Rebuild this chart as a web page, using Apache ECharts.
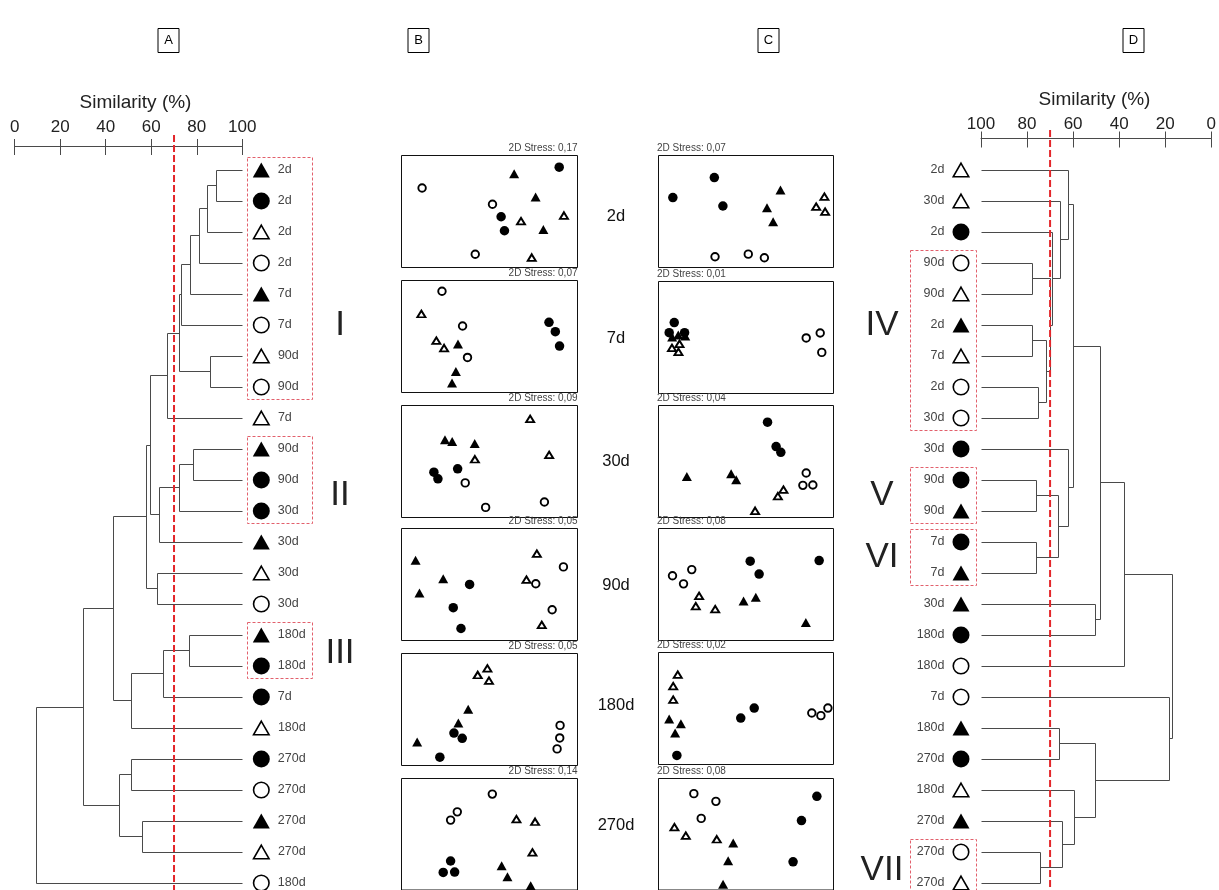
<!DOCTYPE html>
<html>
<head>
<meta charset="utf-8">
<script src="https://cdn.jsdelivr.net/npm/echarts@6/dist/echarts.min.js"></script>
<style>
  html, body { margin: 0; padding: 0; background: #fff; }
  #chart { width: 1219px; height: 890px; }
</style>
</head>
<body>
<div id="chart"></div>
<script>
// ---------- data ----------
const simTicks = [0, 20, 40, 60, 80, 100];
const cutLevel = 70;
const days = ['2d', '7d', '30d', '90d', '180d', '270d'];

// Dendrogram A: leaves from top to bottom (sampling time + group code)
const leafTimeA = ['2d','2d','2d','2d','7d','7d','90d','90d','7d','90d','90d','30d','30d','30d','30d','180d','180d','7d','180d','270d','270d','270d','270d','180d'];
const leafGroupA = ['ft','fc','ot','oc','ft','oc','ot','oc','ot','ft','fc','fc','ft','ot','oc','ft','fc','fc','ot','fc','oc','ft','ot','oc'];
// merges: [child, child, similarity %]; a child is a leaf index or 'm<k>' (k-th merge)
const mergeA = [
  [0, 1, 88.7], ['m0', 2, 84.6], ['m1', 3, 81.0], ['m2', 4, 77.3], ['m3', 5, 73.1],
  [6, 7, 86.1], ['m4', 'm5', 72.6], ['m6', 8, 67.2],
  [9, 10, 78.5], ['m8', 11, 72.3], ['m9', 12, 63.5], ['m7', 'm10', 59.7],
  [13, 14, 62.7], ['m11', 'm12', 58.0],
  [15, 16, 76.6], ['m14', 17, 65.3], ['m15', 18, 51.4], ['m13', 'm16', 43.3],
  [19, 20, 51.4], [21, 22, 56.2], ['m18', 'm19', 46.0],
  ['m17', 'm20', 30.2], ['m21', 23, 9.4]
];
const clustersA = [
  { name: 'I',   first: 0,  last: 7,  labelRow: 5 },
  { name: 'II',  first: 9,  last: 11, labelRow: 10.5 },
  { name: 'III', first: 15, last: 16, labelRow: 15.6 }
];

// Dendrogram D
const leafTimeD = ['2d','30d','2d','90d','90d','2d','7d','2d','30d','30d','90d','90d','7d','7d','30d','180d','180d','7d','180d','270d','180d','270d','270d','270d'];
const leafGroupD = ['ot','ot','fc','oc','ot','ft','ot','oc','oc','fc','fc','ft','fc','ft','ft','fc','oc','oc','ft','fc','ot','ft','oc','ot'];
const mergeD = [
  [3, 4, 77.6], [5, 6, 77.6], [7, 8, 75.0], ['m1', 'm2', 71.5], ['m0', 'm3', 69.7],
  [2, 'm4', 69.0], [1, 'm5', 65.4], [0, 'm6', 62.1],
  [10, 11, 76.1], [12, 13, 76.1], ['m8', 'm9', 66.4], [9, 'm10', 61.8],
  ['m7', 'm11', 60.0], [14, 15, 50.3], ['m12', 'm13', 48.2], ['m14', 16, 37.5],
  [18, 19, 66.1], [22, 23, 74.0], [21, 'm17', 64.7], [20, 'm18', 59.5], ['m16', 'm19', 50.1],
  [17, 'm20', 18.2], ['m15', 'm21', 17.0]
];
const clustersD = [
  { name: 'IV',  first: 3,  last: 8,  labelRow: 5 },
  { name: 'V',   first: 10, last: 11, labelRow: 10.5 },
  { name: 'VI',  first: 12, last: 13, labelRow: 12.5 },
  { name: 'VII', first: 22, last: 23, labelRow: 22.6 }
];

// nMDS ordinations: [group, axis 1, axis 2] (scaled 0-100 within each plot)
const ordB_2d = [['oc',11.7,71.0],['ft',64.0,83.7],['fc',89.6,89.6],['ft',76.2,63.0],['oc',51.7,56.5],['fc',56.6,45.3],['ot',67.9,41.4],['ot',92.3,46.4],['fc',58.5,32.8],['ft',80.6,34.0],['oc',41.9,11.8],['ot',74.0,8.9]];
const ordB_7d = [['oc',23.0,90.4],['ot',11.3,70.1],['oc',34.7,59.4],['ot',19.8,46.3],['ot',24.2,39.7],['ft',32.1,43.3],['oc',37.5,31.3],['ft',30.9,18.8],['ft',28.7,8.4],['fc',83.8,62.7],['fc',87.4,54.3],['fc',89.8,41.5]];
const ordB_30d = [['ot',73.1,88.0],['ft',24.7,69.4],['ft',28.8,67.9],['ft',41.6,66.1],['ot',41.7,52.0],['ot',83.9,55.9],['fc',18.4,40.5],['fc',20.7,34.5],['fc',31.9,43.5],['oc',36.2,30.9],['oc',47.8,9.0],['oc',81.2,13.8]];
const ordB_90d = [['ft',8.0,71.6],['ft',23.7,55.2],['ft',10.2,42.4],['fc',38.7,50.1],['fc',29.4,29.3],['fc',33.8,10.7],['ot',76.9,77.6],['oc',92.0,65.7],['ot',71.0,54.3],['oc',76.3,50.7],['oc',85.6,27.5],['ot',79.7,14.0]];
const ordB_180d = [['ot',43.3,80.8],['ot',48.8,86.7],['ot',49.7,75.7],['ft',37.9,50.3],['ft',32.3,37.9],['fc',29.8,29.0],['fc',34.5,24.3],['ft',8.9,21.0],['fc',21.8,7.4],['oc',90.1,35.8],['oc',89.9,24.6],['oc',88.4,14.8]];
const ordB_270d = [['oc',51.6,86.0],['oc',31.7,70.1],['oc',27.9,62.7],['ot',65.3,63.6],['ot',75.9,61.2],['ot',74.4,33.7],['fc',27.9,26.0],['fc',23.7,15.8],['fc',30.2,16.1],['ft',56.9,21.8],['ft',60.2,11.9],['ft',73.4,3.9]];

const ordC_2d = [['fc',8.2,62.4],['fc',31.9,80.3],['fc',36.8,54.9],['ft',69.7,69.3],['ft',62.0,53.4],['ft',65.5,40.9],['ot',94.8,63.3],['ot',90.1,54.3],['ot',95.2,49.9],['oc',32.3,9.6],['oc',51.3,11.9],['oc',60.5,8.7]];
const ordC_7d = [['ot',12.0,44.4],['ot',7.7,40.8],['ot',11.4,37.2],['ft',11.3,52.3],['ft',15.3,51.4],['ft',7.8,50.5],['fc',9.0,63.3],['fc',6.1,54.3],['fc',14.9,54.3],['oc',84.4,49.6],['oc',92.4,54.0],['oc',93.3,36.7]];
const ordC_30d = [['fc',62.3,85.1],['fc',67.2,63.3],['fc',69.9,58.2],['ft',16.2,36.7],['ft',41.5,39.1],['ft',44.4,33.7],['ot',71.4,24.8],['ot',68.2,19.1],['ot',55.2,6.0],['oc',84.4,39.7],['oc',82.5,28.7],['oc',88.2,29.0]];
const ordC_90d = [['fc',52.4,70.8],['fc',57.5,59.3],['fc',91.8,71.4],['oc',8.0,57.8],['oc',19.0,63.3],['oc',14.3,50.6],['ot',23.2,39.8],['ot',21.3,30.7],['ot',32.4,28.0],['ft',48.6,35.2],['ft',55.6,38.6],['ft',84.2,16.0]];
const ordC_180d = [['ot',11.0,80.3],['ot',8.4,69.9],['ot',8.4,57.9],['ft',6.1,40.6],['ft',12.8,36.4],['ft',9.5,28.1],['fc',10.5,8.1],['fc',47.0,41.5],['fc',54.7,50.4],['oc',87.6,46.0],['oc',92.8,43.6],['oc',96.8,50.4]];
const ordC_270d = [['oc',20.2,86.4],['oc',32.8,79.5],['oc',24.4,64.2],['ot',9.1,56.3],['ot',15.6,48.8],['ot',33.3,45.5],['ft',42.7,42.2],['ft',39.8,26.2],['ft',36.9,5.1],['fc',90.5,84.0],['fc',81.7,62.3],['fc',76.9,25.3]];

const ordB = [ordB_2d, ordB_7d, ordB_30d, ordB_90d, ordB_180d, ordB_270d];
const ordC = [ordC_2d, ordC_7d, ordC_30d, ordC_90d, ordC_180d, ordC_270d];
const stressB = ['0,17', '0,07', '0,09', '0,05', '0,05', '0,14'];
const stressC = ['0,07', '0,01', '0,04', '0,08', '0,02', '0,08'];

// ---------- layout & styles ----------
const FONT = '"Liberation Sans", Arial, sans-serif';
const ROW0 = 170, ROW = 31;             // pixel row of first leaf, row spacing
const A_LEFT = 14.7, A_W = 227.6, A_AXIS_Y = 146;
const D_LEFT = 981, D_W = 233, D_AXIS_Y = 138.5;
const B_LEFT = 401.5, B_W = 176, C_LEFT = 658.5, C_W = 175, PLOT_H = 112;
const B_TOPS = [155.5, 280.5, 405.5, 528.5, 653.5, 778.5];
const C_TOPS = [155.5, 281.5, 405.5, 528.5, 652.5, 778.5];
const DAY_Y = [216, 338, 461, 585, 705, 825];
const DAY_X = 616;
const LINE_COLOR = '#4a4a4a';
const RED = '#e3262b';

const MARK = {
  ft: { symbol: 'triangle', fill: '#000', stroke: '#000', lw: 0 },
  fc: { symbol: 'circle',   fill: '#000', stroke: '#000', lw: 0 },
  ot: { symbol: 'triangle', fill: '#fff', stroke: '#000', lw: 1 },
  oc: { symbol: 'circle',   fill: '#fff', stroke: '#000', lw: 1 }
};
const BIG = { ft: [17, 15], fc: 17, ot: [15.5, 13.5], oc: 15.5 };
const BIG_LW = 1.6;
const SMALL = { ft: [10, 9], fc: 9.5, ot: [8, 6.5], oc: 7.5 };
const SMALL_LW = 1.9;

function markItem(g, value, size, lw, extra) {
  const m = MARK[g];
  return Object.assign({
    value: value,
    symbol: m.symbol,
    symbolSize: size[g],
    itemStyle: { color: m.fill, borderColor: m.stroke, borderWidth: m.lw ? lw : 0, opacity: 1 }
  }, extra || {});
}

// dendrogram node geometry: each merge -> [height, yChild1, yChild2, hChild1, hChild2]
function layoutTree(merges) {
  const pos = [];
  const ref = c => (typeof c === 'number') ? { h: 100, y: c } : pos[+c.slice(1)];
  return merges.map(([a, b, s], k) => {
    const p = ref(a), q = ref(b);
    pos[k] = { h: s, y: (p.y + q.y) / 2 };
    return [s, p.y, q.y, p.h, q.h];
  });
}

const crisp = v => Math.round(v - 0.5) + 0.5;
function dendroSeries(merges, xi, yi) {
  return {
    type: 'custom', xAxisIndex: xi, yAxisIndex: yi, silent: true, clip: false,
    data: layoutTree(merges),
    renderItem: function (params, api) {
      const h = api.value(0), y1 = api.value(1), y2 = api.value(2), h1 = api.value(3), h2 = api.value(4);
      const pts = [[h1, y1], [h, y1], [h, y2], [h2, y2]].map(p => {
        const c = api.coord(p); return [crisp(c[0]), crisp(c[1])];
      });
      return { type: 'polyline', shape: { points: pts }, style: { stroke: LINE_COLOR, lineWidth: 1, fill: null } };
    }
  };
}

function leafSeries(groups, times, xi, yi, side) {
  return {
    type: 'scatter', xAxisIndex: xi, yAxisIndex: yi, silent: true, clip: false, z: 4,
    symbolOffset: [side === 'right' ? 19 : -20, 0],
    data: groups.map((g, i) => markItem(g, [100, i], BIG, BIG_LW, { name: times[i] })),
    label: {
      show: true, position: side, distance: 8, formatter: '{b}',
      color: '#444', fontSize: 12.5, fontFamily: FONT
    }
  };
}

function cutSeries(xi, yi, yTop, yBottom) {
  return {
    type: 'line', xAxisIndex: xi, yAxisIndex: yi, silent: true, clip: false, z: 5,
    symbol: 'none', data: [[cutLevel, yTop], [cutLevel, yBottom]],
    lineStyle: { color: RED, width: 2, type: [7, 3] }
  };
}

function simAxes(gridIndex, inverse, labelMargin) {
  const base = {
    gridIndex: gridIndex, type: 'value', min: 0, max: 100, interval: 20,
    inverse: inverse, position: 'top', splitLine: { show: false }
  };
  return [
    Object.assign({}, base, {
      axisLine: { show: true, onZero: false, lineStyle: { color: LINE_COLOR, width: 1 } },
      axisTick: { show: true, length: 7, lineStyle: { color: LINE_COLOR } },
      axisLabel: { show: true, margin: labelMargin, fontSize: 17, color: '#222', fontFamily: FONT }
    }),
    Object.assign({}, base, {
      axisLine: { show: false, onZero: false },
      axisTick: { show: true, inside: true, length: 9, lineStyle: { color: LINE_COLOR } },
      axisLabel: { show: false }
    })
  ];
}

// leaf-row axis range chosen so that row i sits at ROW0 + i*ROW
const yMinA = (A_AXIS_Y - ROW0) / ROW, yMaxA = yMinA + (890 - A_AXIS_Y) / ROW;
const yMinD = (D_AXIS_Y - ROW0) / ROW, yMaxD = yMinD + (890 - D_AXIS_Y) / ROW;

const grids = [
  { left: A_LEFT, top: A_AXIS_Y, width: A_W, height: 890 - A_AXIS_Y },
  { left: D_LEFT, top: D_AXIS_Y, width: D_W, height: 890 - D_AXIS_Y }
];
const xAxes = [].concat(simAxes(0, false, 10), simAxes(1, true, 6));
const yAxes = [
  { gridIndex: 0, type: 'value', min: yMinA, max: yMaxA, inverse: true, show: false },
  { gridIndex: 1, type: 'value', min: yMinD, max: yMaxD, inverse: true, show: false }
];
const series = [
  dendroSeries(mergeA, 0, 0), leafSeries(leafGroupA, leafTimeA, 0, 0, 'right'),
  cutSeries(0, 0, (135 - ROW0) / ROW, yMaxA),
  dendroSeries(mergeD, 2, 1), leafSeries(leafGroupD, leafTimeD, 2, 1, 'left'),
  cutSeries(2, 1, (130 - ROW0) / ROW, yMaxD)
];

function addOrdination(points, left, top, width) {
  const gi = grids.length;
  grids.push({ left: left, top: top, width: width, height: PLOT_H, show: true,
               borderColor: '#111', borderWidth: 1, backgroundColor: 'transparent' });
  xAxes.push({ gridIndex: gi, type: 'value', min: 0, max: 100, show: false });
  yAxes.push({ gridIndex: gi, type: 'value', min: 0, max: 100, show: false });
  series.push({
    type: 'scatter', xAxisIndex: xAxes.length - 1, yAxisIndex: yAxes.length - 1,
    silent: true, clip: false,
    data: points.map(p => markItem(p[0], [p[1], p[2]], SMALL, SMALL_LW))
  });
}
ordB.forEach((pts, k) => addOrdination(pts, B_LEFT, B_TOPS[k], B_W));
ordC.forEach((pts, k) => addOrdination(pts, C_LEFT, C_TOPS[k], C_W));

// ---------- text annotations ----------
function text(x, y, str, size, color, align, extra) {
  return Object.assign({
    type: 'text', x: x, y: y, silent: true, z: 10,
    style: { text: str, fill: color, font: size + 'px ' + FONT, align: align || 'center', verticalAlign: 'middle' }
  }, extra || {});
}
const graphics = [];
[['A', 168.5], ['B', 418.5], ['C', 768.5], ['D', 1133.5]].forEach(([t, cx]) => {
  graphics.push({ type: 'rect', silent: true, shape: { x: cx - 10.5, y: 28.5, width: 21, height: 24 },
                  style: { fill: 'none', stroke: '#000', lineWidth: 1 } });
  graphics.push(text(cx, 40.5, t, 13, '#000'));
});
graphics.push(text(135.5, 103, 'Similarity (%)', 19, '#222'));
graphics.push(text(1094.5, 100, 'Similarity (%)', 19, '#222'));
days.forEach((d, k) => graphics.push(text(DAY_X, DAY_Y[k], d, 16.5, '#111')));
stressB.forEach((s, k) => graphics.push(text(B_LEFT + B_W, B_TOPS[k] - 7, '2D Stress: ' + s, 10, '#444', 'right')));
stressC.forEach((s, k) => graphics.push(text(C_LEFT - 1.5, C_TOPS[k] - 7, '2D Stress: ' + s, 10, '#444', 'left')));

const chart = echarts.init(document.getElementById('chart'), null, { renderer: 'canvas' });
chart.setOption({
  animation: false,
  backgroundColor: '#fff',
  textStyle: { fontFamily: FONT },
  grid: grids, xAxis: xAxes, yAxis: yAxes, series: series,
  graphic: graphics
});

// cluster frames and their numerals, placed through the dendrogram axes
function clusterGraphics(clusters, gridIndex, x0, x1, numeralX) {
  return clusters.reduce((acc, c) => {
    const yTop = chart.convertToPixel({ gridIndex: gridIndex }, [100, c.first])[1] - 12.5;
    const yBot = chart.convertToPixel({ gridIndex: gridIndex }, [100, c.last])[1] + 12.5;
    const yLab = chart.convertToPixel({ gridIndex: gridIndex }, [100, c.labelRow])[1];
    acc.push({ type: 'rect', silent: true, z: 3,
      shape: { x: crisp(x0), y: crisp(yTop), width: Math.round(x1 - x0), height: Math.round(yBot - yTop) },
      style: { fill: 'none', stroke: '#e2606c', lineWidth: 1, lineDash: [3, 2] } });
    acc.push(text(numeralX, yLab, c.name, 35, '#222'));
    return acc;
  }, []);
}
chart.setOption({
  graphic: graphics.concat(
    clusterGraphics(clustersA, 0, 247, 312, 340),
    clusterGraphics(clustersD, 1, 910, 976, 882)
  )
});
</script>
</body>
</html>
